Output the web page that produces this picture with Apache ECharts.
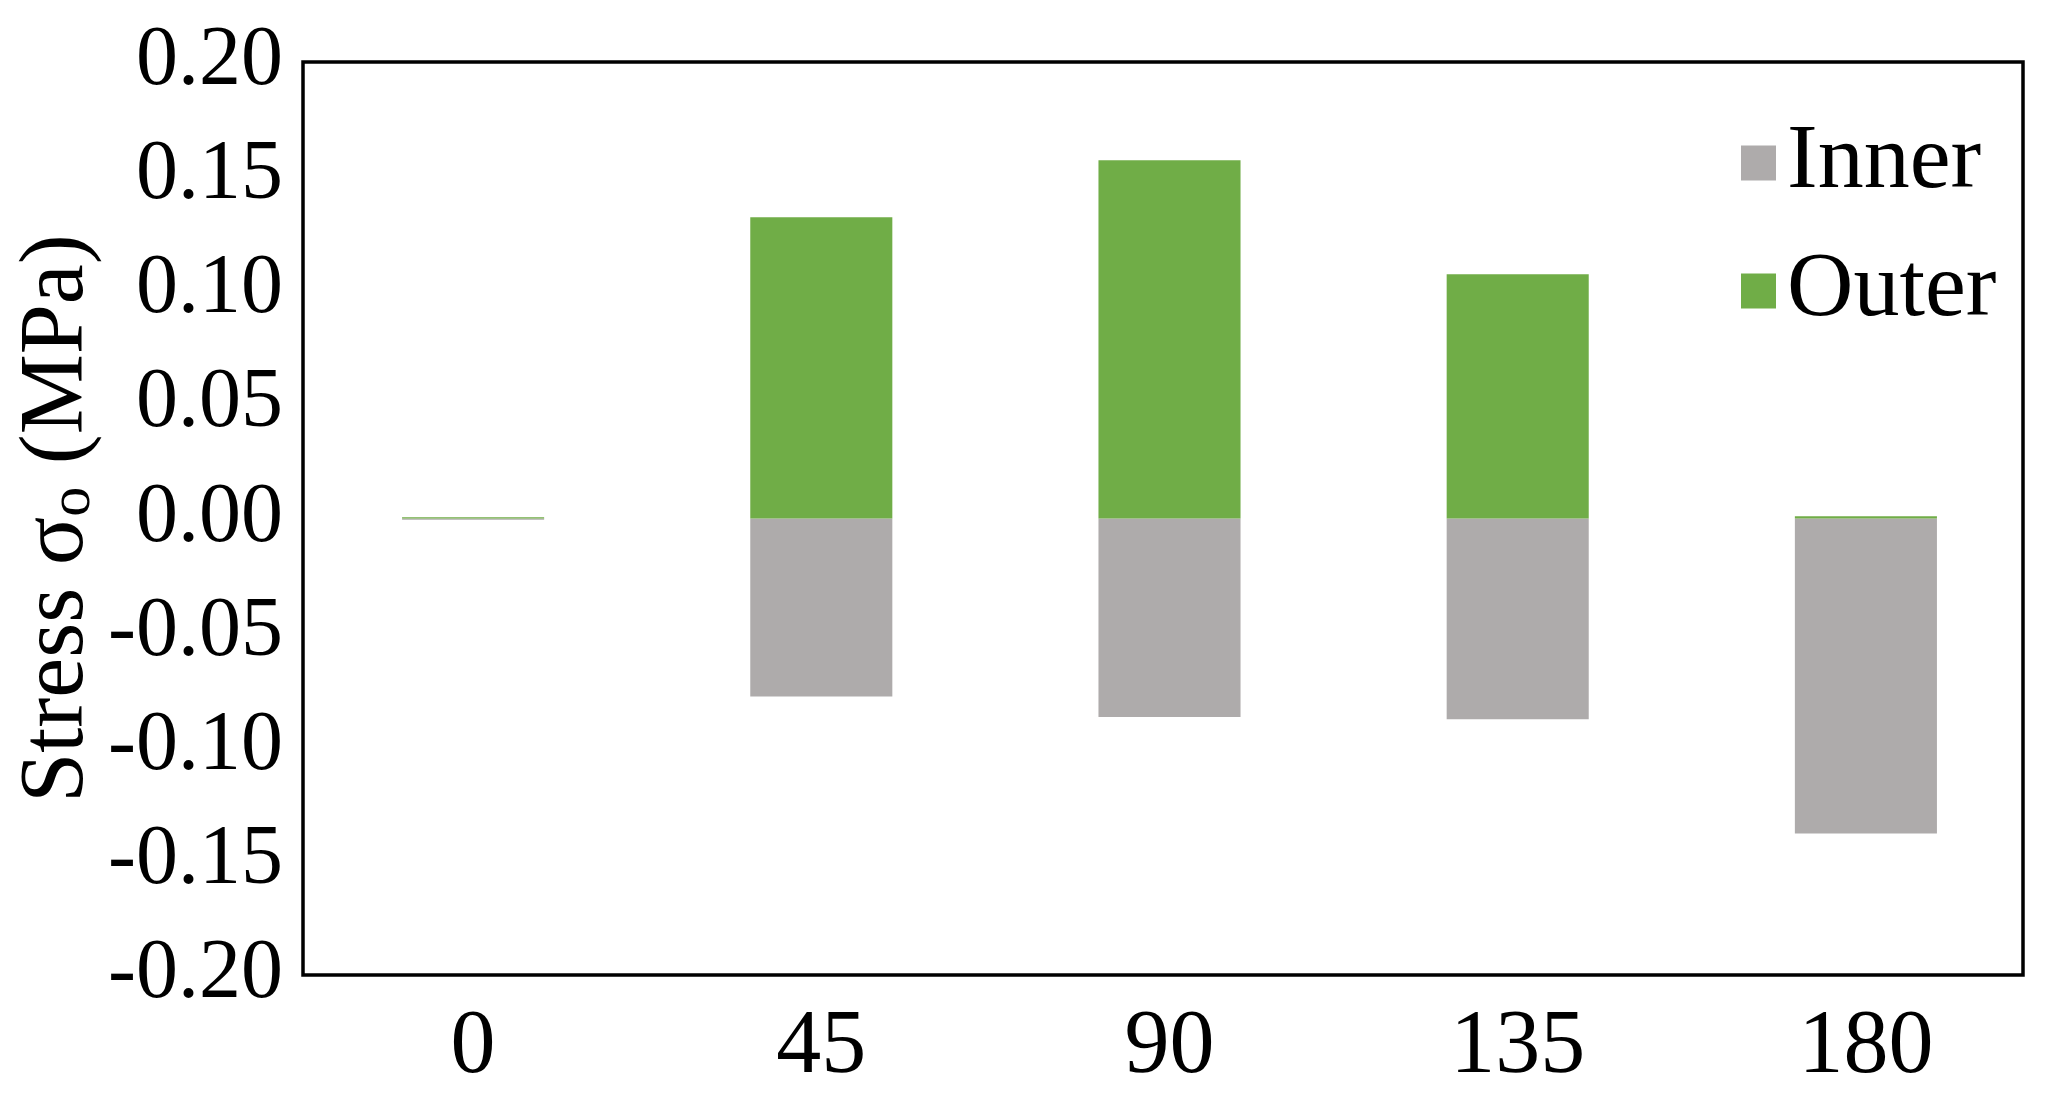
<!DOCTYPE html>
<html>
<head>
<meta charset="utf-8">
<script src="https://cdn.jsdelivr.net/npm/echarts@6/dist/echarts.min.js"></script>
<style>
  html, body { margin: 0; padding: 0; background: #fff; }
  #chart { width: 2064px; height: 1105px; }
</style>
</head>
<body>
<div id="chart"></div>
<script>
// 角度分类与内外侧应力 (MPa)
const angles = ['0', '45', '90', '135', '180']
const inner = [-0.0005, -0.078, -0.087, -0.088, -0.138]
const outer = [0.0005, 0.132, 0.157, 0.107, 0.001]

const font = 'Liberation Serif'
const yRange = { min: -0.2, max: 0.2, interval: 0.05 }

echarts.init(document.getElementById('chart')).setOption({
	backgroundColor: '#fff',
	animation: false,
	textStyle: { fontFamily: font, color: '#000' },
	// grid 0: 外框 + y轴刻度; grid 1: 柱子(类目间距略宽于外框)
	grid: [
		{
			left: 303, right: 41, top: 62, bottom: 130,
			containLabel: false, outerBoundsMode: 'none',
			show: true, borderColor: '#000', borderWidth: 3.5
		},
		{
			left: 299, right: 24, top: 62, bottom: 130,
			containLabel: false, outerBoundsMode: 'none',
			show: false
		}
	],
	legend: {
		orient: 'vertical',
		left: 1736,
		top: 112,
		itemWidth: 35,
		itemHeight: 35,
		itemGap: 36,
		icon: 'rect',
		textStyle: { fontFamily: font, fontSize: 92, lineHeight: 90, color: '#000', padding: [0, 0, 0, 6] },
		data: ['Inner', 'Outer']
	},
	xAxis: [
		{
			gridIndex: 0,
			type: 'category',
			data: angles,
			show: false
		},
		{
			gridIndex: 1,
			type: 'category',
			data: angles,
			axisLine: { show: false },
			axisTick: { show: false },
			axisLabel: { fontFamily: font, fontSize: 90, color: '#000', margin: 28 }
		}
	],
	yAxis: [
		{
			gridIndex: 0,
			type: 'value',
			...yRange,
			axisLine: { show: false },
			axisTick: { show: false },
			splitLine: { show: false },
			axisLabel: {
				fontFamily: font,
				fontSize: 84,
				color: '#000',
				margin: 20,
				formatter: v => v.toFixed(2)
			},
			name: 'Stress σ{s|o} (MPa)',
			nameLocation: 'middle',
			nameGap: 200,
			nameMoveOverlap: false,
			nameTextStyle: {
				fontFamily: font,
				fontSize: 90,
				color: '#000',
				rich: { s: { fontFamily: font, fontSize: 60, color: '#000', verticalAlign: 'bottom' } }
			}
		},
		{
			gridIndex: 1,
			type: 'value',
			...yRange,
			show: false,
			splitLine: { show: false }
		}
	],
	series: [
		{
			type: 'bar',
			name: 'Inner',
			xAxisIndex: 1,
			yAxisIndex: 1,
			stack: 'all',
			barWidth: '40.8%',
			itemStyle: { color: '#AEABAB' },
			data: inner
		},
		{
			type: 'bar',
			name: 'Outer',
			xAxisIndex: 1,
			yAxisIndex: 1,
			stack: 'all',
			barWidth: '40.8%',
			itemStyle: { color: '#70AD47' },
			data: outer
		}
	]
})
</script>
</body>
</html>
